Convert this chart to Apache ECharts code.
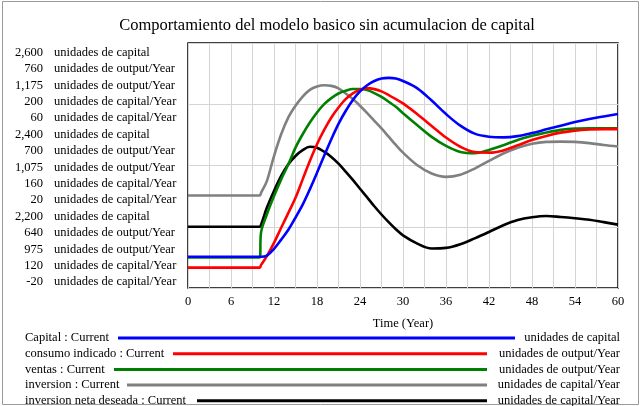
<!DOCTYPE html>
<html>
<head>
<meta charset="utf-8">
<script src="https://cdn.jsdelivr.net/npm/echarts@6/dist/echarts.min.js"></script>
<style>
  html,body{margin:0;padding:0;background:#fff}
  #chart{width:643px;height:406px}
</style>
</head>
<body>
<div id="chart"></div>
<script>
// time points (Year)
var years = [0, 10, 10.2, 11, 12, 13, 14, 15, 16, 17, 18, 19, 20, 21, 22, 23, 24, 25, 26, 27, 28, 29, 30,
  32, 34, 36, 38, 40, 42, 44, 46, 48, 50, 52, 54, 56, 58, 60]

var capital = [2251, 2251, 2251, 2253, 2264, 2279, 2295, 2315, 2336, 2361, 2388, 2416, 2443, 2468, 2489, 2507,
  2521, 2531, 2538, 2542, 2543, 2542, 2538, 2526, 2506, 2484, 2465, 2452, 2447, 2446, 2448, 2453, 2459, 2465,
  2471, 2476, 2480, 2484]
var consumoIndicado = [650, 650, 651.3, 655.6, 662.1, 669.5, 676.8, 684.2, 693.2, 702.2, 710.4, 717.4, 723.5,
  728.4, 732.5, 735.3, 737.1, 737.9, 737.4, 736.3, 734.5, 732.5, 730.4, 725.1, 719.4, 713.7, 709.2, 706.6,
  706.3, 707.4, 709.9, 712.5, 714.5, 716.1, 717.1, 717.6, 717.8, 717.8]
var ventas = [1000, 1000, 1020.6, 1035, 1050, 1063.7, 1076, 1089.6, 1100.5, 1110.1, 1118.3, 1125.1, 1130, 1133.8,
  1136, 1137.4, 1137.4, 1136.6, 1134.1, 1131.1, 1127, 1122.9, 1117.7, 1107.9, 1098.4, 1091, 1086.1, 1085,
  1087.7, 1091.5, 1095.9, 1099.2, 1101.9, 1104.1, 1105.2, 1105.4, 1105.4, 1105.4]
var inversion = [150.2, 150.2, 151.1, 154.9, 163.1, 170.2, 175.7, 179.5, 182.5, 184.7, 185.8, 186.2, 186, 185.2,
  183.5, 181.7, 179.5, 177.1, 174.6, 172.1, 169.4, 166.7, 164.2, 160.1, 157.4, 156.3, 157, 159, 161.5, 163.9,
  165.8, 167.1, 167.7, 167.8, 167.7, 167.3, 166.7, 166.2]
var inversionNeta = [0, 0, 0.7, 6.2, 11.7, 16.6, 20.4, 23.1, 25, 26.1, 25.8, 24.5, 22.8, 20.6, 18, 15.3, 12.4,
  9.6, 6.7, 4, 1.5, -0.8, -2.8, -5.5, -7.1, -6.9, -5.7, -3.8, -1.7, 0.5, 2.2, 3.1, 3.5, 3.2, 2.8, 2.3, 1.5, 0.7]

// axis ticks (top, middle, bottom) for each variable
var capitalTicks = [2600, 2400, 2200]
var consumoTicks = [760, 700, 640]
var ventasTicks = [1175, 1075, 975]
var inversionTicks = [200, 160, 120]
var netaTicks = [60, 20, -20]

var names = ['Capital', 'consumo indicado', 'ventas', 'inversion', 'inversion neta deseada']
var units = ['unidades de capital', 'unidades de output/Year', 'unidades de output/Year',
  'unidades de capital/Year', 'unidades de capital/Year']
var colors = ['#0000ff', '#ff0000', '#008000', '#808080', '#000000']

var seriesValues = [capital, consumoIndicado, ventas, inversion, inversionNeta]
var allTicks = [capitalTicks, consumoTicks, ventasTicks, inversionTicks, netaTicks]

var font = '"Liberation Serif", "DejaVu Serif", serif'
var fs = 12.5
var chart = echarts.init(document.getElementById('chart'), null, {renderer: 'canvas'})

function fmt(v) {
  return v.toLocaleString('en-US')
}

var graphics = []
// frame around the whole picture
graphics.push({
  type: 'rect', shape: {x: 2.5, y: 1.5, width: 636, height: 403},
  style: {fill: 'none', stroke: '#9a9a9a', lineWidth: 1}, silent: true
})
// stacked y-axis labels
for (var g = 0; g < 3; g++) {
  for (var i = 0; i < 5; i++) {
    var yy = 53 + g * 82 + i * 16.2
    graphics.push({
      type: 'text', x: 43, y: yy,
      style: {text: fmt(allTicks[i][g]), font: fs + 'px ' + font, fill: '#000', align: 'right', verticalAlign: 'middle'}
    })
    graphics.push({
      type: 'text', x: 54, y: yy,
      style: {text: units[i], font: fs + 'px ' + font, fill: '#000', align: 'left', verticalAlign: 'middle'}
    })
  }
}
// legend rows
var legendLine = [[118, 515], [173, 487], [114, 487], [127, 487], [197, 487]]
for (var i = 0; i < 5; i++) {
  var ly = 338 + i * 15.7
  graphics.push({
    type: 'text', x: 25, y: ly,
    style: {text: names[i] + ' : Current', font: fs + 'px ' + font, fill: '#000', align: 'left', verticalAlign: 'middle'}
  })
  graphics.push({
    type: 'line', shape: {x1: legendLine[i][0], y1: ly, x2: legendLine[i][1], y2: ly},
    style: {stroke: colors[i], lineWidth: 3}
  })
  graphics.push({
    type: 'text', x: 620, y: ly,
    style: {text: units[i], font: fs + 'px ' + font, fill: '#000', align: 'right', verticalAlign: 'middle'}
  })
}

var yAxes = allTicks.map(function (t, i) {
  return {
    type: 'value',
    min: t[2],
    max: t[0],
    interval: (t[0] - t[2]) / 4,
    position: 'left',
    axisLine: {show: false},
    axisTick: {show: false},
    axisLabel: {show: false},
    splitLine: {show: i === 0, lineStyle: {color: '#d4d4d4', width: 1}}
  }
})

var series = seriesValues.map(function (vals, i) {
  return {
    name: names[i],
    type: 'line',
    yAxisIndex: i,
    showSymbol: false,
    smooth: 0.35,
    z: 10 - i,
    lineStyle: {color: colors[i], width: 2.6},
    data: years.map(function (t, k) { return [t, vals[k]] })
  }
})

var option = {
  animation: false,
  backgroundColor: '#fff',
  title: {
    text: 'Comportamiento del modelo basico sin acumulacion de capital',
    left: 322, top: 12, textAlign: 'center',
    textStyle: {fontFamily: font, fontSize: 16.5, fontWeight: 'normal', color: '#000'}
  },
  grid: {
    left: 188, right: 25, top: 43, bottom: 118,
    show: true, borderColor: '#000', borderWidth: 1.5, backgroundColor: 'transparent'
  },
  xAxis: {
    type: 'value', min: 0, max: 60, interval: 3,
    name: 'Time (Year)', nameLocation: 'middle', nameGap: 29,
    nameTextStyle: {fontFamily: font, fontSize: fs, color: '#000'},
    axisLine: {show: false},
    axisTick: {show: false},
    axisLabel: {
      fontFamily: font, fontSize: fs, color: '#000', margin: 7,
      formatter: function (v) { return v % 6 === 0 ? String(v) : '' }
    },
    splitLine: {show: true, lineStyle: {color: '#d4d4d4', width: 1}}
  },
  yAxis: yAxes,
  series: series,
  graphic: graphics
}
chart.setOption(option)
</script>
</body>
</html>
